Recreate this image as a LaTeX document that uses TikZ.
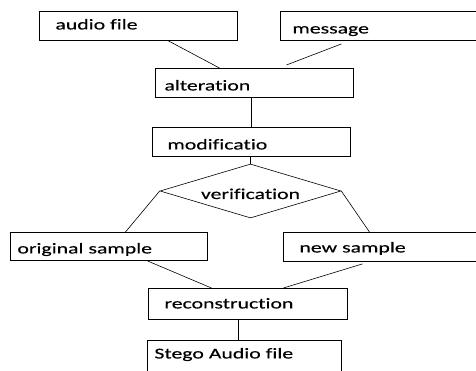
\documentclass[tikz,border=0pt]{standalone}
\usepackage{fontspec}
\setmainfont{Carlito}[FakeStretch=1.45, FakeBold=0.4, Ligatures=NoCommon]
\usetikzlibrary{shapes.geometric}

\begin{document}
\begin{tikzpicture}[x=1pt, y=-1pt,
        box/.style={draw, line width=0.9pt, anchor=north west, inner ysep=0pt,
            align=left, font=\fontsize{15}{18}\selectfont,
            text height=22pt, text depth=7pt},
        link/.style={line width=0.6pt}
    ]
        % --- 範囲 ---
        \clip (0,0) rectangle (476,371);

        % --- ボックス ---
        \node[box, inner xsep=16pt, text width=166pt, text height=18pt, text depth=11pt] (audio) at (39,11) {audio file};
        \node[box, inner xsep=12pt, text width=174pt] (message) at (280,11) {message};
        \node[box, inner xsep=9pt, text width=180pt] (alteration) at (155,68) {alteration};
        \node[box, inner xsep=15pt, text width=168pt] (modif) at (152,127) {modificatio};
        \node[draw, line width=0.6pt, diamond, aspect=3.35, minimum width=181pt, minimum height=54pt,
            inner sep=0pt, font=\fontsize{15}{18}\selectfont, text height=16pt, text depth=0pt]
            (verif) at (250.5,191) {verification};
        \node[box, inner xsep=7pt, text width=183pt, text height=21pt] (original) at (10,232) {original sample};
        \node[box, inner xsep=16pt, text width=166pt, text height=20pt, text depth=9pt] (new) at (283,232) {new sample};
        \node[box, inner xsep=16pt, text width=167pt, text height=20pt, text depth=11pt] (recon) at (148,288) {reconstruction};
        \node[box, inner xsep=7pt, text width=180pt, text height=18pt, text depth=16pt] (stego) at (147,340) {Stego Audio file};

        % --- 接続線 ---
        \draw[link] ([xshift=30pt]audio.south) -- ([xshift=-35pt]alteration.north);
        \draw[link] ([xshift=-38pt, yshift=-3pt]message.south) -- ([xshift=32pt, yshift=3pt]alteration.north);
        \draw[link] (modif.north) -- (modif.north |- alteration.south);
        \draw[link] (verif.north) -- (verif.north |- modif.south);
        \draw[link] (verif.west) -- ([xshift=16.5pt]original.north);
        \draw[link] (verif.east) -- ([xshift=-13pt]new.north);
        \draw[link] ([xshift=38.5pt]original.south) -- ([xshift=-36.5pt]recon.north);
        \draw[link] ([xshift=-20pt, yshift=-2pt]new.south) -- ([xshift=35.5pt]recon.north);
        \draw[link] ([xshift=-6pt]stego.north) -- ([xshift=-6pt]stego.north |- recon.south);

    \end{tikzpicture}
\end{document}
